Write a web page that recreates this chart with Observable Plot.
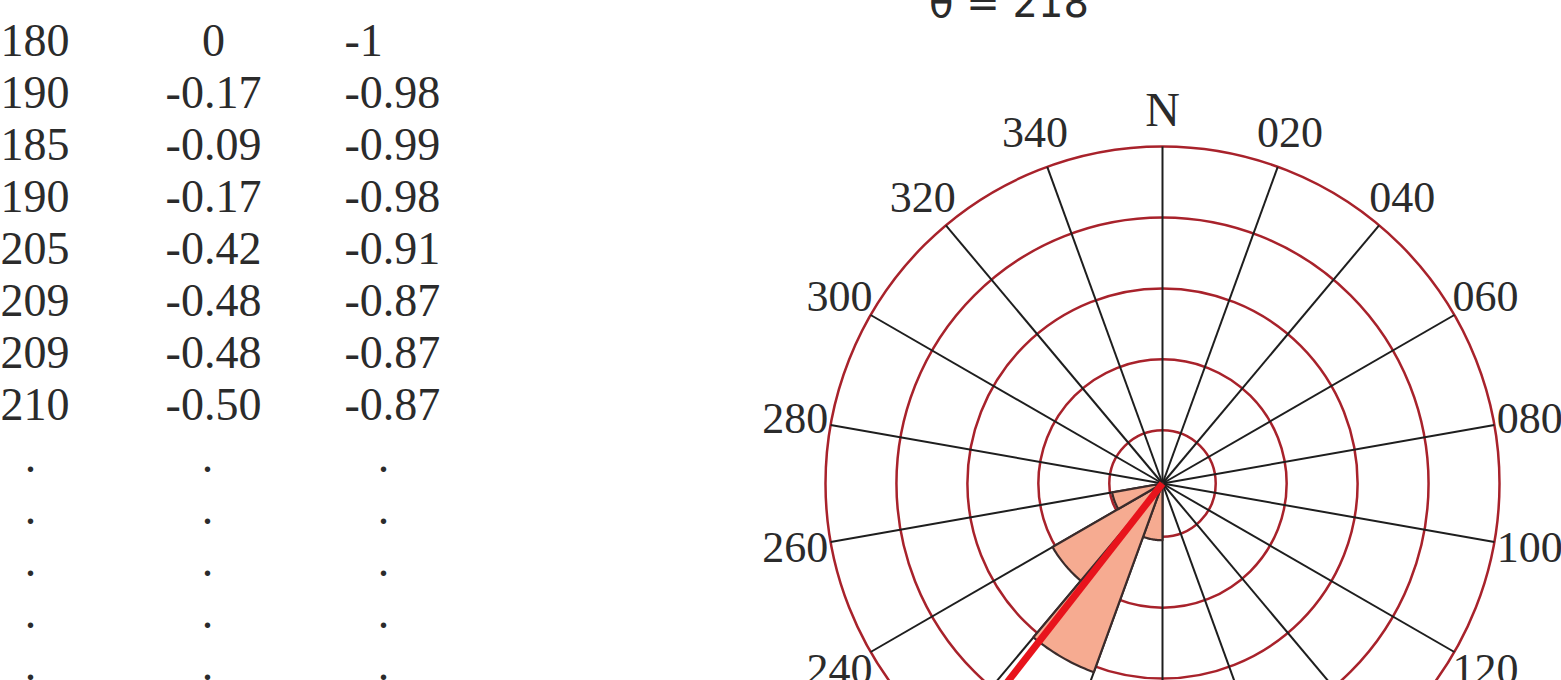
<!DOCTYPE html>
<html>
<head>
<meta charset="utf-8">
<script src="https://cdn.jsdelivr.net/npm/d3@7"></script>
<script src="https://cdn.jsdelivr.net/npm/@observablehq/plot@0.6"></script>
<style>
  html, body { margin: 0; padding: 0; background: #fff; }
  #wrap { position: relative; width: 1561px; height: 680px; overflow: hidden; background: #fff; }
  #wrap > svg, #wrap > figure { position: absolute; left: 0; top: 0; margin: 0; }
  #title { position: absolute; left: 809px; top: -17px; width: 400px; text-align: center;
           font-family: "DejaVu Sans", sans-serif; font-size: 40px; line-height: 40px; color: #2a2a2a; white-space: nowrap; }
</style>
</head>
<body>
<div id="wrap"></div>
<script>
// ---------------- data ----------------
const degrees  = [180, 190, 185, 190, 205, 209, 209, 210];
const sines    = [0, -0.17, -0.09, -0.17, -0.42, -0.48, -0.48, -0.50];
const cosines  = [-1, -0.98, -0.99, -0.98, -0.91, -0.87, -0.87, -0.87];
const ellipsisRowCount = 5;

const binStarts  = [180, 200, 220, 240];
const binLengths = [0.80, 2.83, 1.79, 0.72];
const binWidth = 20;

const ringValues  = [0.75, 1.75, 2.75, 3.75, 4.75];
const spokeAngles = [0, 20, 40, 60, 80, 100, 120, 140, 160, 180, 200, 220, 240, 260, 280, 300, 320, 340];
const spokeLabels = ["N", "020", "040", "060", "080", "100", "120", "140", "160", "180", "200", "220", "240", "260", "280", "300", "320", "340"];
const meanDirection = 218;

// ---------------- layout ----------------
const W = 1561, H = 680;
const cx = 1162, cy = 483;      // rose centre (px)
const Rpx = 337;                // outer ring radius (px)
const rMax = ringValues[ringValues.length - 1];
const k = Rpx / rMax;           // px per radial unit
const labelR = rMax + 36 / k;

const rad = a => a * Math.PI / 180;
const px = (a, r) => r * Math.sin(rad(a));
const py = (a, r) => r * Math.cos(rad(a));

// petals as closed polygons (centre -> arc -> centre)
const petalPts = [];
binStarts.forEach((a0, i) => {
  const L = binLengths[i];
  petalPts.push({bin: i, x: 0, y: 0});
  for (let a = a0; a <= a0 + binWidth; a += 1) petalPts.push({bin: i, x: px(a, L), y: py(a, L)});
  petalPts.push({bin: i, x: 0, y: 0});
});

const spokes = spokeAngles.map((a, i) => ({a, label: spokeLabels[i]}));
const serif = "Liberation Serif, Times New Roman, serif";

const rose = Plot.plot({
  width: W, height: H,
  margin: 0,
  x: {domain: [-cx / k, (W - cx) / k], range: [0, W], axis: null},
  y: {domain: [-(H - cy) / k, cy / k], range: [H, 0], axis: null},
  r: {type: "linear", domain: [0, rMax], range: [0, Rpx]},
  style: {background: "#fff"},
  marks: [
    Plot.dot(ringValues, {x: () => 0, y: () => 0, r: d => d, fill: "none", stroke: "#a8222b", strokeWidth: 2.5}),
    Plot.link(spokes, {x1: () => 0, y1: () => 0, x2: d => px(d.a, rMax), y2: d => py(d.a, rMax), stroke: "#1e1e1e", strokeWidth: 2}),
    Plot.line(petalPts, {x: "x", y: "y", z: "bin", curve: "linear", fill: "#f6ab91", stroke: "#3a2b2b", strokeWidth: 2.2, strokeLinejoin: "round"}),
    Plot.link([meanDirection], {x1: () => 0, y1: () => 0, x2: d => px(d, rMax), y2: d => py(d, rMax), stroke: "#e8141c", strokeWidth: 7}),
    Plot.text(spokes.filter(d => d.label !== "N"), {x: d => px(d.a, labelR), y: d => py(d.a, labelR), text: "label",
      fontFamily: serif, fontSize: 44, fill: "#2b2b2b"}),
    Plot.text(spokes.filter(d => d.label === "N"), {x: d => px(d.a, labelR), y: d => py(d.a, labelR), text: "label",
      fontFamily: serif, fontSize: 48, fill: "#2b2b2b"})
  ]
});

// ---------------- table ----------------
const fmt = v => Number.isInteger(v) ? String(v) : v.toFixed(2);
const rows = degrees.map((d, i) => ({i, deg: d, sin: sines[i], cos: cosines[i]}));
const dotRows = d3.range(degrees.length, degrees.length + ellipsisRowCount).map(i => ({i}));
const tfont = {fontFamily: serif, fontSize: 46, fill: "#2b2b2b", lineAnchor: "bottom"};

const table = Plot.plot({
  width: 760, height: H,
  margin: 0,
  x: {type: "point", domain: ["deg", "sin", "cos"], range: [0, 344], padding: 0, axis: null},
  y: {type: "point", domain: d3.range(degrees.length + ellipsisRowCount), range: [55, 679], padding: 0, axis: null},
  style: {background: "transparent"},
  marks: [
    Plot.text(rows, {x: () => "deg", y: "i", text: d => fmt(d.deg), textAnchor: "start", ...tfont}),
    Plot.text(rows, {x: () => "sin", y: "i", text: d => fmt(d.sin), textAnchor: "middle", dx: 41, ...tfont}),
    Plot.text(rows, {x: () => "cos", y: "i", text: d => fmt(d.cos), textAnchor: "start", ...tfont}),
    Plot.text(dotRows, {x: () => "deg", y: "i", text: () => ".", textAnchor: "middle", dx: 30, ...tfont}),
    Plot.text(dotRows, {x: () => "sin", y: "i", text: () => ".", textAnchor: "middle", dx: 35, ...tfont}),
    Plot.text(dotRows, {x: () => "cos", y: "i", text: () => ".", textAnchor: "middle", dx: 39, ...tfont})
  ]
});

const wrap = document.getElementById("wrap");
wrap.appendChild(rose);
wrap.appendChild(table);
const title = document.createElement("div");
title.id = "title";
title.textContent = `θ = ${meanDirection}`;
wrap.appendChild(title);
</script>
</body>
</html>
